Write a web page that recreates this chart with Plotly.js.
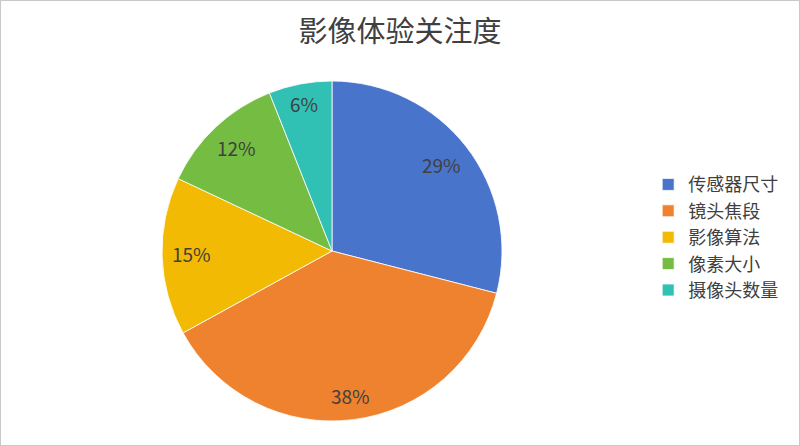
<!DOCTYPE html>
<html>
<head>
<meta charset="utf-8">
<script src="https://cdn.plot.ly/plotly-3.0.1.min.js"></script>
<style>
  html, body { margin: 0; padding: 0; background: #fff; }
  #chart { width: 798px; height: 444px; border: 1px solid #c8c8c8; }
</style>
</head>
<body>
<div id="chart"></div>
<script>
// 影像体验关注度
const categories = ["传感器尺寸", "镜头焦段", "影像算法", "像素大小", "摄像头数量"];
const shares = [29, 38, 15, 12, 6];
const colors = ["#4874CB", "#EE822F", "#F2BA02", "#75BD42", "#30C0B4"];

const font = "'Noto Sans CJK SC', 'Noto Sans', sans-serif";
const W = 798, H = 444;
const domX = [0.2018, 0.6278], domY = [0.054, 0.8198];

// labels sit at the inside end of each slice, like the original
const cx = (domX[0] + domX[1]) / 2 * W;
const cy = (domY[0] + domY[1]) / 2 * H;
const R = Math.min((domX[1] - domX[0]) * W, (domY[1] - domY[0]) * H) / 2;
const total = shares.reduce((a, b) => a + b, 0);
let acc = 0;
const labelNotes = shares.map((v) => {
  const mid = (acc + v / 2) / total * 2 * Math.PI;
  acc += v;
  const text = v + "%";
  const w = text.length * 13, h = 20;
  const r = R - 10 - (w / 2) * Math.abs(Math.sin(mid)) - (h / 2) * Math.abs(Math.cos(mid));
  return {
    x: (cx + r * Math.sin(mid)) / W,
    y: (cy + r * Math.cos(mid)) / H,
    xref: "paper",
    yref: "paper",
    yshift: 2,
    text: text,
    showarrow: false,
    xanchor: "center",
    yanchor: "middle",
    font: { size: 19, color: "#404040", family: font },
  };
});

const trace = {
  type: "pie",
  labels: categories,
  values: shares,
  sort: false,
  direction: "clockwise",
  rotation: 0,
  marker: { colors: colors, line: { color: "#ffffff", width: 0.8 } },
  textposition: "none",
  hoverinfo: "label+percent",
  domain: { x: domX, y: domY },
};

const layout = {
  width: W,
  height: H,
  margin: { l: 0, r: 0, t: 0, b: 0 },
  paper_bgcolor: "#ffffff",
  font: { family: font, color: "#404040" },
  title: {
    text: "影像体验关注度",
    font: { size: 29, color: "#404040", family: font },
    x: 0.5,
    xanchor: "center",
    y: 0.93,
    yanchor: "middle",
  },
  showlegend: true,
  legend: {
    x: 0.811,
    xanchor: "left",
    y: 0.468,
    yanchor: "middle",
    itemwidth: 30,
    font: { size: 18, color: "#404040", family: font },
    bgcolor: "rgba(0,0,0,0)",
  },
  annotations: labelNotes,
};

Plotly.newPlot("chart", [trace], layout, { displayModeBar: false });
</script>
</body>
</html>
